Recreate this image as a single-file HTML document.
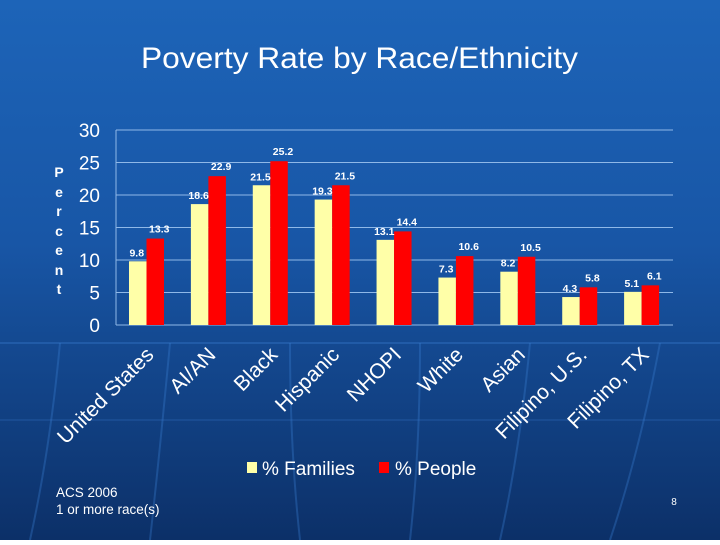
<!DOCTYPE html>
<html><head><meta charset="utf-8"><style>
html,body{margin:0;padding:0}
body{width:720px;height:540px;overflow:hidden;font-family:"Liberation Sans",sans-serif}
</style></head><body>
<svg width="720" height="540" xmlns="http://www.w3.org/2000/svg" id="svg">
<defs>
<linearGradient id="bg" x1="0" y1="0" x2="0" y2="1">
<stop offset="0" stop-color="#1d64b8"/><stop offset="0.45" stop-color="#1856a6"/><stop offset="1" stop-color="#0c3068"/>
</linearGradient>
</defs>
<rect width="720" height="540" fill="url(#bg)"/>
<g stroke="#3a7fd0" stroke-opacity="0.35" fill="none" stroke-width="2">
<path d="M0 343 H720"/><path d="M0 420 H720" stroke-opacity="0.2"/>
<path d="M60 343 Q50 450 30 540"/><path d="M170 343 Q160 450 150 540"/><path d="M290 343 Q290 450 300 540"/>
<path d="M420 343 Q420 450 410 540"/><path d="M530 343 Q520 450 500 540"/><path d="M660 343 Q640 450 610 540"/>
</g>
<text x="141" y="68" textLength="437" lengthAdjust="spacingAndGlyphs" font-size="30" fill="#fff">Poverty Rate by Race/Ethnicity</text>
<g font-size="14" font-weight="bold" fill="#fff" text-anchor="middle">
<text x="59" y="177">P</text><text x="59" y="197">e</text><text x="59" y="216">r</text><text x="59" y="236">c</text><text x="59" y="255">e</text><text x="59" y="275">n</text><text x="59" y="294">t</text>
</g>
<g id="plot"></g>
<g font-size="19" fill="#fff">
<rect x="247" y="462" width="10" height="11" fill="#ffffa8"/><text x="262" y="475">% Families</text>
<rect x="379" y="462" width="10" height="11" fill="#ff0000"/><text x="395" y="475">% People</text>
</g>
<text x="56" y="497" font-size="13.5" fill="#fff">ACS 2006</text>
<text x="56" y="514" font-size="13.5" fill="#fff">1 or more race(s)</text>
<text x="674" y="505" font-size="10" fill="#fff" text-anchor="middle">8</text>
</svg>
<script>
const categories=["United States","AI/AN","Black","Hispanic","NHOPI","White","Asian","Filipino, U.S.","Filipino, TX"];
const families=[9.8,18.6,21.5,19.3,13.1,7.3,8.2,4.3,5.1];
const people=[13.3,22.9,25.2,21.5,14.4,10.6,10.5,5.8,6.1];
const ticks=[0,5,10,15,20,25,30];
const NS="http://www.w3.org/2000/svg";
const g=document.getElementById('plot');
const L=116,R=673,T=130,B=325,yMax=30;
const y=v=>B-(v/yMax)*(B-T);
const cw=(R-L)/categories.length;
const x=i=>L+i*cw;
function mk(t,a){const e=document.createElementNS(NS,t);for(const k in a)e.setAttribute(k,a[k]);g.appendChild(e);return e;}
ticks.forEach(t=>{
 const ln=mk('line',{x1:L,x2:R,y1:y(t),y2:y(t),stroke:'#8fb8e8','stroke-width':1});
 
 
 const tx=mk('text',{x:L-16,y:y(t)+7,'text-anchor':'end','font-size':19,fill:'#fff'});
 tx.textContent=t;
 
 
});
const ax=mk('line',{x1:L,x2:L,y1:T,y2:B,stroke:'#8fb8e8'});


categories.forEach((c,i)=>{
 const x0=x(i)+13,bw=17.5;
 const bf=mk('rect',{x:x0,y:y(families[i]),width:bw,height:B-y(families[i]),fill:'#ffffa8'});
 
 
 const bp=mk('rect',{x:x0+bw,y:y(people[i]),width:bw,height:B-y(people[i]),fill:'#ff0000'});
 
 
 const lf=mk('text',{x:x0+bw/2-1,y:y(families[i])-5,'text-anchor':'middle','font-size':10.5,'font-weight':'bold',fill:'#fff'});
 lf.textContent=families[i];
 
 
 const lp=mk('text',{x:x0+bw*1.5+4,y:y(people[i])-6,'text-anchor':'middle','font-size':10.5,'font-weight':'bold',fill:'#fff'});
 lp.textContent=people[i];
 
 
 const cx=x(i)+cw/2+8,cy=356;
 const cl=mk('text',{x:cx,y:cy,'text-anchor':'end','font-size':21,fill:'#fff',transform:`rotate(-45 ${cx} ${cy})`});
 cl.textContent=c;
 
 
});
</script>
</body></html>
